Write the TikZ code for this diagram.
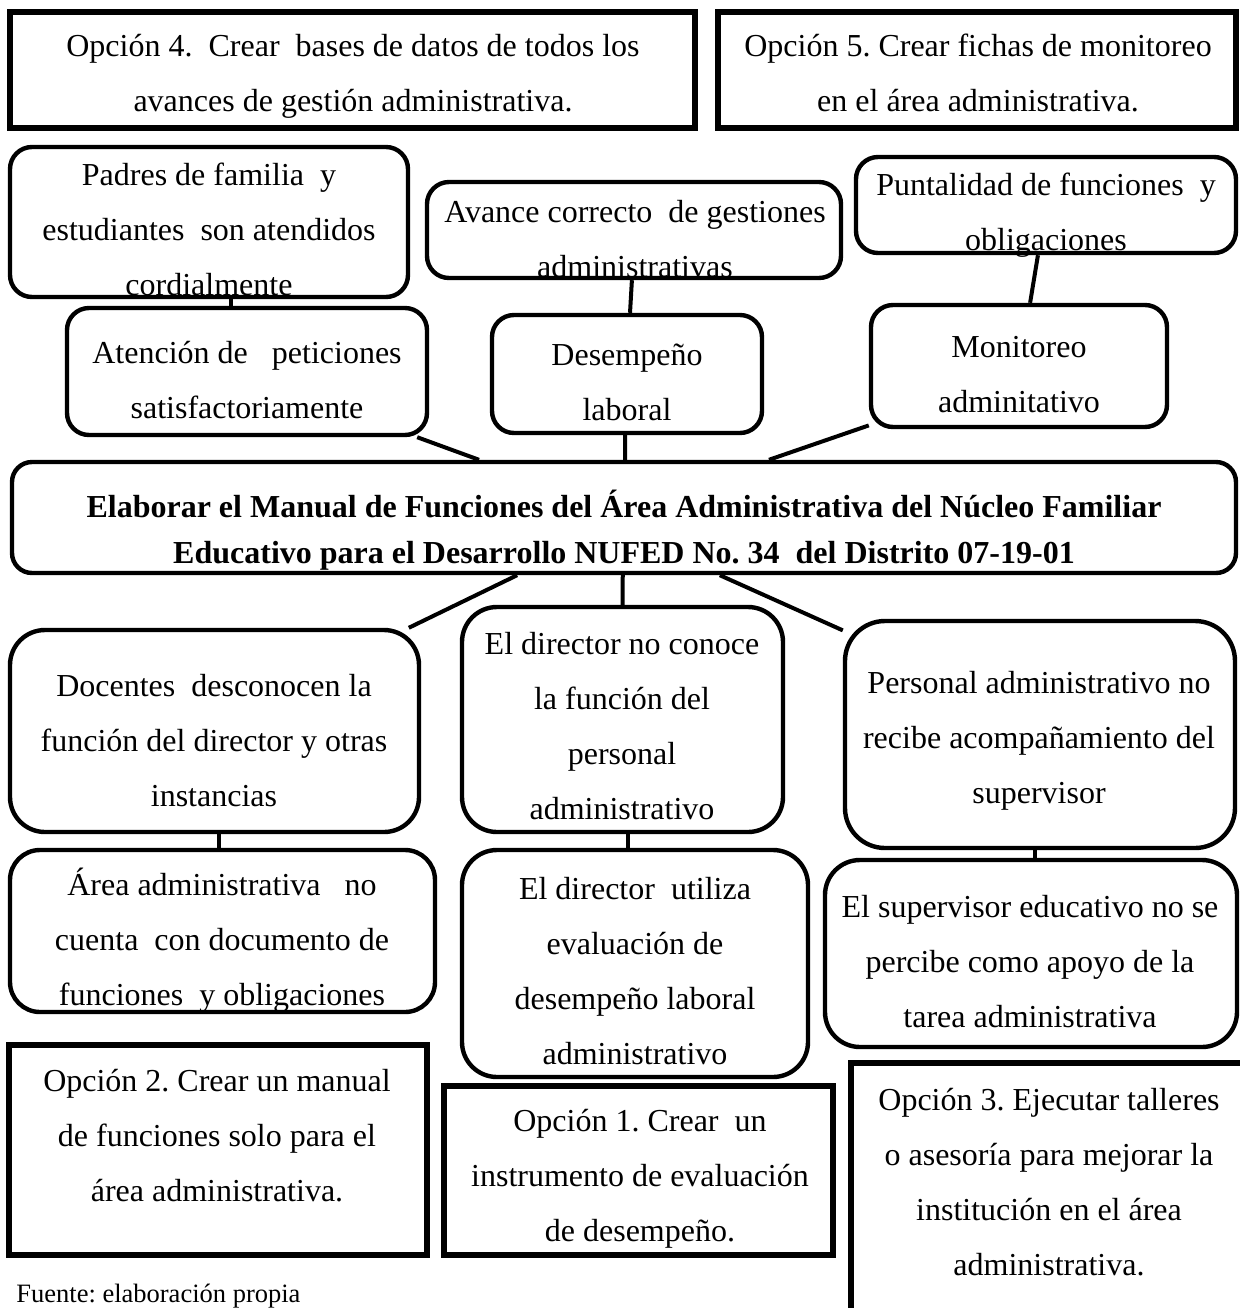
\documentclass[tikz,border=0pt]{standalone}
\usepackage{fontspec}
\setmainfont{Liberation Serif}
\usetikzlibrary{calc,fit}
\newcommand\ls{\strut}
\frenchspacing
\begin{document}
\begin{tikzpicture}[x=0.5pt,y=-0.5pt]
\tikzset{
  rbox/.style={draw, line width=2.2pt, rounded corners=#1, inner sep=0pt},
  rbox/.default=11pt,
  sbox/.style={draw, line width=2.6pt, inner sep=0pt},
  txt/.style={align=center, inner sep=0pt, font=\fontsize{16pt}{27.5pt}\selectfont},
  ttl/.style={align=center, inner sep=0pt, font=\fontsize{16pt}{23pt}\selectfont\bfseries},
  conn/.style={line width=2pt},
}
\fill[white] (0,0) rectangle (1239,1308);
\useasboundingbox (0,0) rectangle (1239,1308);

% boxes
\node[sbox, fit={(10,12) (695,128)}] (op4) {};
\node[sbox, fit={(718,12) (1236,128)}] (op5) {};
\node[rbox, fit={(10,147) (408,297)}] (padres) {};
\node[rbox, fit={(427,182) (841,278)}] (avance) {};
\node[rbox, fit={(856,157) (1236,253)}] (puntal) {};
\node[rbox, fit={(67,308) (427,435)}] (atencion) {};
\node[rbox, fit={(492,315) (762,433)}] (desemp) {};
\node[rbox, fit={(871,305) (1167,427)}] (monit) {};
\node[rbox=10pt, fit={(12,462) (1236,573)}] (main) {};
\node[rbox=17.5pt, fit={(10,630) (419,832)}] (docentes) {};
\node[rbox=15pt, fit={(10,850) (435,1012)}] (area) {};
\node[rbox=17.5pt, fit={(462,607) (783,832)}] (dir1) {};
\node[rbox=17.5pt, fit={(462,850) (808,1077)}] (dir2) {};
\node[rbox=20pt, fit={(845,621) (1235,848)}] (personal) {};
\node[rbox=17.5pt, fit={(825,860) (1237,1047)}] (superv) {};
\node[sbox, fit={(9,1045) (427,1255)}] (op2) {};
\node[sbox, fit={(444,1086) (833,1255)}] (op1) {};
\node[sbox, fit={(851,1063) (1270,1340)}] (op3) {};

% texts
\node[txt] (t4) at (353,72.5) {Opción 4.\ \ Crear\ \ bases de datos de todos los\ls\\avances de gestión administrativa.\ls};
\node[txt] (t5) at (978,72.5) {Opción 5. Crear fichas de monitoreo\ls\\en el área administrativa.\ls};
\node[txt] (tpadres) at (209,229) {Padres de familia\ \ y\ls\\estudiantes\ \ son atendidos\ls\\cordialmente\ls};
\node[txt] (tavance) at (635,238.5) {Avance correcto\ \ de gestiones\ls\\administrativas\ls};
\node[txt] (tpuntal) at (1046,211.5) {Puntalidad de funciones\ \ y\ls\\obligaciones\ls};
\node[txt] (tatencion) at (247,379.5) {Atención de\ \ \ peticiones\ls\\satisfactoriamente\ls};
\node[txt] (tdesemp) at (627,381.5) {Desempeño\ls\\laboral\ls};
\node[txt] (tmonit) at (1019,373.5) {Monitoreo\ls\\adminitativo\ls};
\node[ttl] (tmain) at (624,530.8) {Elaborar el Manual de Funciones del Área Administrativa del Núcleo Familiar\ls\\Educativo para el Desarrollo NUFED No. 34\ \ del Distrito 07-19-01\ls};
\node[txt] (tdocentes) at (214,740) {Docentes\ \ desconocen la\ls\\función del director y otras\ls\\instancias\ls};
\node[txt] (tarea) at (222,939) {Área administrativa\ \ \ no\ls\\cuenta\ \ con documento de\ls\\funciones\ \ y obligaciones\ls};
\node[txt] (tdir1) at (622,725.5) {El director no conoce\ls\\la función del\ls\\personal\ls\\administrativo\ls};
\node[txt] (tdir2) at (635,970.5) {El director\ \ utiliza\ls\\evaluación de\ls\\desempeño laboral\ls\\administrativo\ls};
\node[txt] (tpersonal) at (1039,737) {Personal administrativo no\ls\\recibe acompañamiento del\ls\\supervisor\ls};
\node[txt] (tsuperv) at (1030,961) {El supervisor educativo no se\ls\\percibe como apoyo de la\ls\\tarea administrativa\ls};
\node[txt] (t2) at (217,1135) {Opción 2. Crear un manual\ls\\de funciones solo para el\ls\\área administrativa.\ls};
\node[txt] (t1) at (640,1175.5) {Opción 1. Crear\ \ un\ls\\instrumento de evaluación\ls\\de desempeño.\ls};
\node[txt] (t3) at (1049,1181.5) {Opción 3. Ejecutar talleres\ls\\o asesoría para mejorar la\ls\\institución en el área\ls\\administrativa.\ls};
\node[anchor=base west, inner sep=0pt, font=\fontsize{13.25pt}{16pt}\selectfont] (fuente) at (16,1302) {Fuente: elaboración propia};

% connectors
\draw[conn] ($(padres.south west)!0.555!(padres.south east)$) coordinate (c1) -- (c1 |- atencion.north);
\draw[conn] ($(avance.south west)!0.495!(avance.south east)$) -- ($(desemp.north west)!0.511!(desemp.north east)$);
\draw[conn] ($(puntal.south west)!0.479!(puntal.south east)$) -- ($(monit.north west)!0.537!(monit.north east)$);
\draw[conn] ($(atencion.south west)!0.967!(atencion.south east)$) -- ($(main.north west)!0.382!(main.north east)$);
\draw[conn] ($(desemp.south west)!0.493!(desemp.south east)$) -- ($(main.north west)!0.501!(main.north east)$);
\draw[conn] ($(monit.south west)!0.03!(monit.north west)$) -- ($(main.north west)!0.618!(main.north east)$);
\draw[conn] ($(main.south west)!0.413!(main.south east)$) -- ($(docentes.north west)!0.97!(docentes.north east)$);
\draw[conn] ($(main.south west)!0.499!(main.south east)$) -- ($(dir1.north west)!0.5!(dir1.north east)$);
\draw[conn] ($(main.south west)!0.578!(main.south east)$) -- ($(personal.north west)!0.05!(personal.south west)$);
\draw[conn] ($(docentes.south west)!0.511!(docentes.south east)$) coordinate (c10) -- (c10 |- area.north);
\draw[conn] ($(dir1.south west)!0.517!(dir1.south east)$) coordinate (c11) -- (c11 |- dir2.north);
\draw[conn] ($(personal.south west)!0.487!(personal.south east)$) coordinate (c12) -- (c12 |- superv.north);
\end{tikzpicture}
\end{document}
